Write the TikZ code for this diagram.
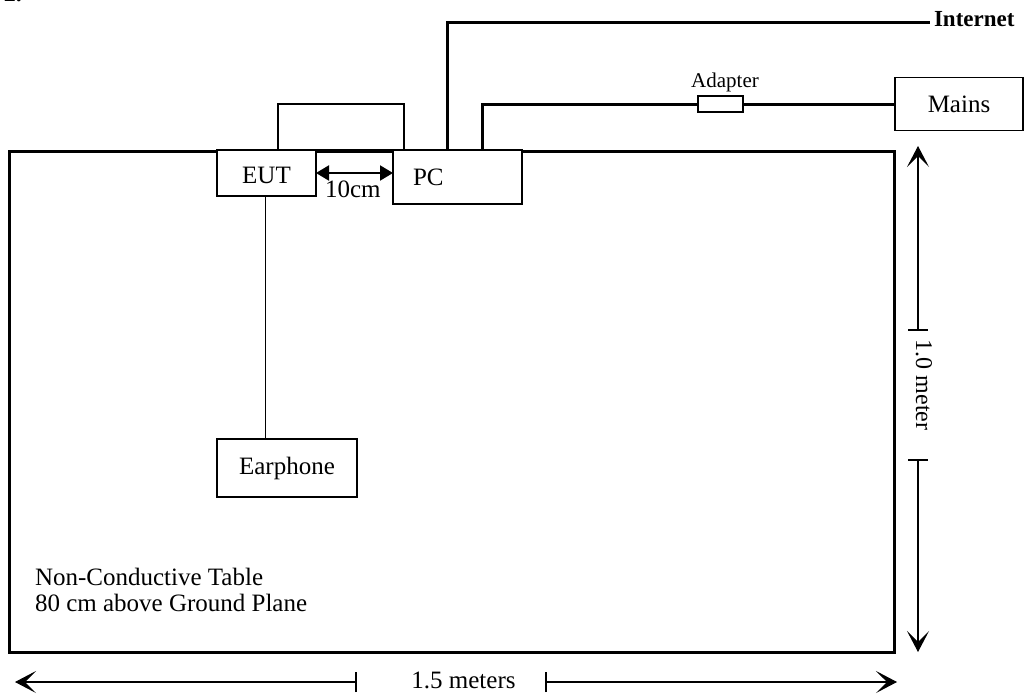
\documentclass[tikz,border=0pt]{standalone}
\usepackage{fontspec}
\setmainfont{Liberation Serif}
\usetikzlibrary{arrows.meta}
\tikzset{
  box/.style={draw, line width=1.3pt, inner sep=0pt, outer sep=0pt, font=\fontsize{25}{28}\selectfont},
  txt/.style={inner sep=0pt, outer sep=0pt, font=\fontsize{25}{26}\selectfont},
  thickline/.style={line width=3pt},
  thinline/.style={line width=1.3pt},
  dimline/.style={line width=1.3pt},
  dimtip/.style={-{Stealth[length=21pt, width=22pt, inset=11pt, line width=1pt]}},
  gaparrow/.style={line width=2pt, {Triangle[length=13pt, width=15pt]}-{Triangle[length=13pt, width=15pt]}}
}
\begin{document}
\begin{tikzpicture}[x=1pt, y=-1pt]
\useasboundingbox (0,0) rectangle (1024,696);
\node[txt, anchor=base west, font=\fontsize{24}{25}\selectfont\bfseries] (num) at (4,1.5) {2.};

% table
\node[draw, line width=3pt, inner sep=0pt, outer sep=0pt, anchor=north west,
      minimum width=884.5pt, minimum height=501pt] (table) at (9.5,151.5) {};

% devices
\node[box, fill=white, minimum width=126pt, minimum height=46pt] (mon) at (341,127) {};
\draw[thickline] (table.north west) -- (table.north east);
\node[box, fill=white, minimum width=99pt, minimum height=46pt, text height=21pt, text depth=0pt] (eut) at (266.5,173) {EUT};
\node[box, fill=white, minimum width=129pt, minimum height=54pt, text width=89pt, inner xsep=20pt, align=left] (pc) at (457.5,177) {PC};
\node[box, minimum width=140pt, minimum height=58pt] (ear) at (287,468) {Earphone};
\node[box, minimum width=128pt, minimum height=53pt] (mains) at (959,104) {Mains};
\node[box, minimum width=45pt, minimum height=16pt] (adapter) at (720.5,104) {};
\node[txt, font=\fontsize{21}{22}\selectfont, anchor=base] (adlabel) at (725,87) {Adapter};
\node[txt, font=\fontsize{23}{24}\selectfont\bfseries, anchor=west] (inet) at (934,19.5) {Internet};

% cables
\draw[thickline] ([xshift=54.5pt]pc.north west) |- ([xshift=-4pt, yshift=-2.5pt]inet.west);
\draw[thickline] ([xshift=89pt]pc.north west) |- (adapter.west);
\draw[thickline] (adapter.east) -- (mains.west);
\draw[thinline] ([xshift=-1pt]eut.south) -- ([xshift=-1pt]eut.south |- ear.north);

% 10 cm spacing
\draw[gaparrow] (eut.east) -- (eut.east -| pc.west);
\node[txt, anchor=base west] (tencm) at (325,197) {10cm};

% table text
\node[txt, anchor=north west, align=left] (tabletext) at (35,568) {Non-Conductive Table\\80 cm above Ground Plane};

% vertical dimension
\coordinate (vtop) at (918,146);
\coordinate (vbot) at (918,652);
\coordinate (vt1) at (918,330);
\coordinate (vt2) at (918,460);
\draw[dimline, dimtip] (vt1) -- (vtop);
\draw[dimline, dimtip] (vt2) -- (vbot);
\draw[dimline] ([xshift=-10pt]vt1) -- ([xshift=10pt]vt1);
\draw[dimline] ([xshift=-10pt]vt2) -- ([xshift=10pt]vt2);
\node[txt, font=\fontsize{24}{25}\selectfont, rotate=-90] (vlabel) at (924,385) {1.0 meter};

% horizontal dimension
\coordinate (hl) at (15,682);
\coordinate (hr) at (897,682);
\coordinate (ht1) at (356,682);
\coordinate (ht2) at (546,682);
\draw[dimline, dimtip] (ht1) -- (hl);
\draw[dimline, dimtip] (ht2) -- (hr);
\draw[dimline] ([yshift=-10pt]ht1) -- ([yshift=10pt]ht1);
\draw[dimline] ([yshift=-10pt]ht2) -- ([yshift=10pt]ht2);
\node[txt, font=\fontsize{25}{26}\selectfont, anchor=base] (hlabel) at (463.5,688) {1.5 meters};
\end{tikzpicture}
\end{document}
